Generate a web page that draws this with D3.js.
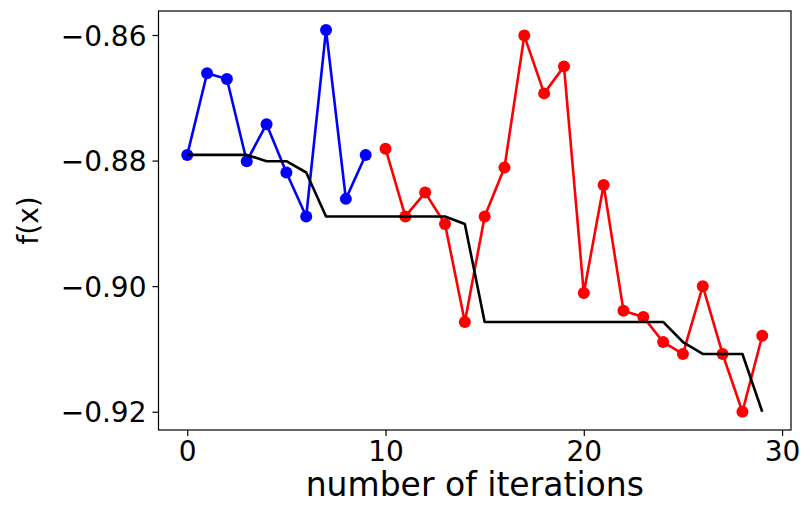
<!DOCTYPE html>
<html>
<head>
<meta charset="utf-8">
<script src="https://cdn.jsdelivr.net/npm/d3@7"></script>
<style>
  body { margin: 0; background: #fff; }
  text { font-family: "DejaVu Sans", sans-serif; fill: #000; }
</style>
</head>
<body>
<div id="chart"></div>
<script>
let w = 802;
let h = 505;

// iterations and f(x)
let blueIter = [0, 1, 2, 3, 4, 5, 6, 7, 8, 9];
let blueVals = [-0.8791, -0.8661, -0.8670, -0.8801, -0.8742, -0.8819, -0.8889, -0.8592, -0.8861, -0.8791];

let redIter = [10, 11, 12, 13, 14, 15, 16, 17, 18, 19, 20, 21, 22, 23, 24, 25, 26, 27, 28, 29];
let redVals = [-0.8781, -0.8889, -0.8851, -0.8901, -0.9057, -0.8889, -0.8811, -0.8601, -0.8693, -0.8650,
  -0.9011, -0.8839, -0.9039, -0.9049, -0.9089, -0.9108, -0.9000, -0.9108, -0.9200, -0.9079];

// best-so-far line
let bestIter = d3.range(0, 30);
let bestVals = [-0.8791, -0.8791, -0.8791, -0.8791, -0.8801, -0.8801, -0.8819, -0.8889, -0.8889, -0.8889,
  -0.8889, -0.8889, -0.8889, -0.8889, -0.8901, -0.9057, -0.9057, -0.9057, -0.9057, -0.9057,
  -0.9057, -0.9057, -0.9057, -0.9057, -0.9057, -0.9089, -0.9108, -0.9108, -0.9108, -0.9200];

let xTicks = [0, 10, 20, 30];
let yTicks = [-0.86, -0.88, -0.90, -0.92];

let mLeft = 158.5, mRight = 791, mTop = 11, mBottom = 430;

let svg = d3.select('#chart').
append('svg').
attr('width', w).
attr('height', h);

let x = d3.scaleLinear().domain([-1.45, 30.45]).range([mLeft, mRight]);
let y = d3.scaleLinear().domain([-0.92291, -0.85618]).range([mBottom, mTop]);

let line = d3.line().x(d => x(d[0])).y(d => y(d[1]));

function series(iters, vals, color) {
  let pts = iters.map((d, i) => [d, vals[i]]);
  svg.append('path').
  datum(pts).
  attr('d', line).
  attr('fill', 'none').
  attr('stroke', color).
  attr('stroke-width', 2.6).
  attr('stroke-linejoin', 'round');
  svg.append('g').
  selectAll('circle').
  data(pts).
  join('circle').
  attr('cx', d => x(d[0])).
  attr('cy', d => y(d[1])).
  attr('r', 6).
  attr('fill', color);
}

series(blueIter, blueVals, '#0000ff');
series(redIter, redVals, '#ff0000');

svg.append('path').
datum(bestIter.map((d, i) => [d, bestVals[i]])).
attr('d', line).
attr('fill', 'none').
attr('stroke', '#000').
attr('stroke-width', 2.6).
attr('stroke-linejoin', 'round');

// axes
let xAxis = d3.axisBottom(x).tickValues(xTicks).tickSize(6).tickPadding(5).tickFormat(d3.format('d'));
let yAxis = d3.axisLeft(y).tickValues(yTicks).tickSize(6).tickPadding(6).tickFormat(d3.format('.2f'));

let gx = svg.append('g').attr('transform', 'translate(0,' + mBottom + ')').call(xAxis);
let gy = svg.append('g').attr('transform', 'translate(' + mLeft + ',0)').call(yAxis);

[gx, gy].forEach(g => {
  g.select('.domain').remove();
  g.selectAll('.tick line').attr('stroke', '#000').attr('stroke-width', 1.2);
  g.selectAll('.tick text').attr('font-size', 28).style('font-family', '"DejaVu Sans", sans-serif').attr('fill', '#000');
});
gx.selectAll('.tick text').attr('dy', '0.72em');
gy.selectAll('.tick text').attr('dy', '0.36em');

svg.append('rect').
attr('x', mLeft).
attr('y', mTop).
attr('width', mRight - mLeft).
attr('height', mBottom - mTop).
attr('fill', 'none').
attr('stroke', '#000').
attr('stroke-width', 1.2);

svg.append('text').
attr('x', (mLeft + mRight) / 2).
attr('y', 496).
attr('text-anchor', 'middle').
attr('font-size', 33).
text('number of iterations');

svg.append('text').
attr('transform', 'translate(38,' + (mTop + mBottom) / 2 + ') rotate(-90)').
attr('text-anchor', 'middle').
attr('font-size', 28).
text('f(x)');
</script>
</body>
</html>
